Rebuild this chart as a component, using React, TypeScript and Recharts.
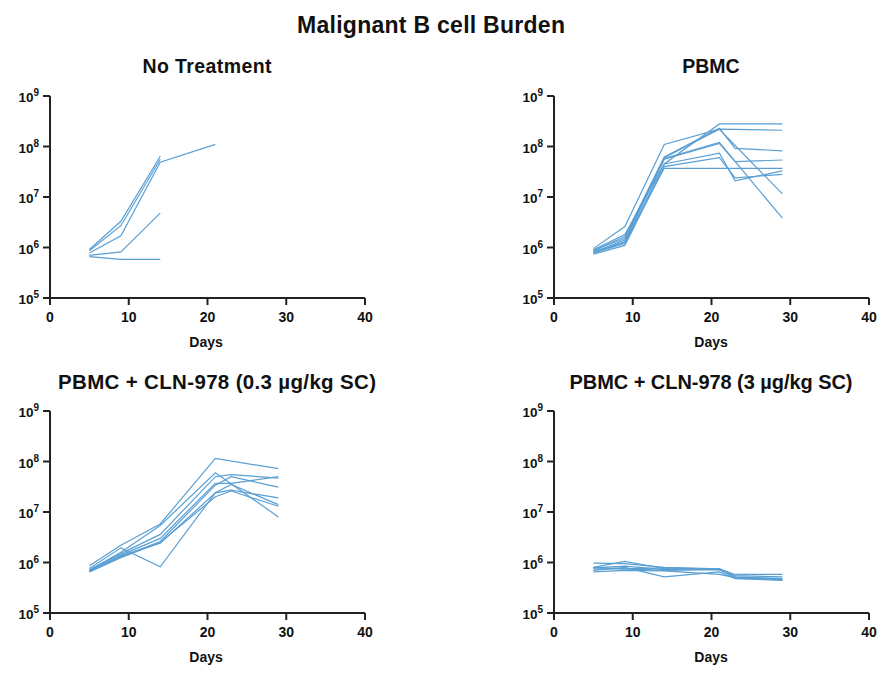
import React from "react";
import { LineChart, Line, XAxis, YAxis } from "recharts";

const FONT = "'Liberation Sans', Arial, Helvetica, sans-serif";
const LINE_COLOR = "#5a9fd4";

const xTicks = [0, 10, 20, 30, 40];
const yTicks = [1e5, 1e6, 1e7, 1e8, 1e9];

// No Treatment — days
const noTxDays = [5, 9, 14, 21];
const noTx1 = [0.91e6, 3.3e6, 6.4e7, null];
const noTx2 = [0.86e6, 2.7e6, 5.6e7, null];
const noTx3 = [0.78e6, 1.7e6, 4.9e7, 1.1e8];
const noTx4 = [0.7e6, 0.82e6, 4.8e6, null];
const noTx5 = [0.66e6, 0.58e6, 0.58e6, null];

// PBMC
const pbmcDays = [5, 9, 14, 21, 23, 29];
const pbmc1 = [0.95e6, 2.6e6, 1.1e8, 2.2e8, null, 2.1e8];
const pbmc2 = [0.9e6, 1.8e6, 4.5e7, 2.8e8, null, 2.8e8];
const pbmc3 = [0.86e6, 1.65e6, 6.2e7, 2.3e8, 9.2e7, 8.2e7];
const pbmc4 = [0.88e6, 1.5e6, 6.0e7, 2.2e8, null, 1.15e7];
const pbmc5 = [0.8e6, 1.4e6, 5.6e7, 1.15e8, 5.0e7, 5.4e7];
const pbmc6 = [0.83e6, 1.3e6, 5.8e7, 1.2e8, null, 3.8e6];
const pbmc7 = [0.78e6, 1.2e6, 4.5e7, 7.4e7, 2.1e7, 3.3e7];
const pbmc8 = [0.74e6, 1.1e6, 4.0e7, 6.0e7, 2.4e7, 2.8e7];
const pbmc9 = [0.8e6, 1.25e6, 3.7e7, 3.7e7, 3.7e7, 3.7e7];

// PBMC + CLN-978 (0.3 µg/kg SC)
const lowDays = [5, 9, 14, 21, 23, 29];
const low1 = [0.86e6, 2.2e6, 5.8e6, 1.15e8, null, 7.2e7];
const low2 = [0.76e6, 1.95e6, 0.82e6, 2.4e7, 2.7e7, 1.9e7];
const low3 = [0.7e6, 1.6e6, 5.4e6, 6.0e7, null, 8.0e6];
const low4 = [0.72e6, 1.5e6, 3.6e6, 5.0e7, 5.5e7, 4.7e7];
const low5 = [0.68e6, 1.4e6, 3.0e6, 3.7e7, 3.7e7, 5.0e7];
const low6 = [0.66e6, 1.3e6, 2.6e6, 3.4e7, 5.0e7, 3.1e7];
const low7 = [0.7e6, 1.35e6, 2.4e6, 2.4e7, 3.5e7, 1.4e7];
const low8 = [0.65e6, 1.25e6, 2.5e6, 2.0e7, 2.6e7, 1.3e7];

// PBMC + CLN-978 (3 µg/kg SC)
const highDays = [5, 9, 14, 21, 23, 29];
const high1 = [0.97e6, 0.95e6, 0.8e6, 0.75e6, 0.58e6, 0.58e6];
const high2 = [0.8e6, 1.05e6, 0.76e6, 0.72e6, 0.55e6, 0.52e6];
const high3 = [0.78e6, 0.85e6, 0.72e6, 0.76e6, 0.5e6, 0.47e6];
const high4 = [0.75e6, 0.75e6, 0.7e6, 0.72e6, 0.5e6, 0.45e6];
const high5 = [0.7e6, 0.8e6, 0.52e6, 0.65e6, 0.48e6, 0.44e6];
const high6 = [0.65e6, 0.7e6, 0.68e6, 0.58e6, 0.5e6, 0.46e6];
const high7 = [0.8e6, 0.75e6, 0.78e6, 0.74e6, 0.52e6, 0.48e6];

type Val = number | null;

function buildRows(days: number[], series: Val[][]) {
  return days.map((d, i) => {
    const row: Record<string, Val> = { day: d };
    series.forEach((s, k) => {
      row["s" + k] = s[i];
    });
    return row;
  });
}

const YTick = (props: any) => {
  const { x, y, payload } = props;
  const exp = Math.round(Math.log10(payload.value));
  return (
    <text x={x - 2} y={y + 6} textAnchor="end" fontFamily={FONT} fontWeight={700} fill="#111">
      <tspan fontSize={13.5}>10</tspan>
      <tspan fontSize={10} dy={-6}>{exp}</tspan>
    </text>
  );
};

type PanelProps = {
  left: number;
  top: number;
  days: number[];
  series: Val[][];
};

const Panel = ({ left, top, days, series }: PanelProps) => {
  const rows = buildRows(days, series);
  return (
    <div style={{ position: "absolute", left, top }}>
      <LineChart width={380} height={280} data={rows} margin={{ top: 16, right: 15, bottom: 32, left: 0 }}>
        <XAxis
          dataKey="day"
          type="number"
          domain={[0, 40]}
          ticks={xTicks}
          height={30}
          tickSize={7}
          tickMargin={7}
          axisLine={{ stroke: "#222", strokeWidth: 2 }}
          tickLine={{ stroke: "#222", strokeWidth: 2 }}
          tick={{ fontSize: 14, fontWeight: 700, fill: "#111", fontFamily: FONT }}
        />
        <YAxis
          scale="log"
          domain={[1e5, 1e9]}
          ticks={yTicks}
          allowDataOverflow
          width={50}
          tickSize={7}
          axisLine={{ stroke: "#222", strokeWidth: 2 }}
          tickLine={{ stroke: "#222", strokeWidth: 2 }}
          tick={<YTick />}
        />
        {series.map((_, k) => (
          <Line
            key={k}
            dataKey={"s" + k}
            type="linear"
            stroke={LINE_COLOR}
            strokeWidth={1.2}
            dot={false}
            activeDot={false}
            connectNulls
            isAnimationActive={false}
          />
        ))}
      </LineChart>
    </div>
  );
};

export default function App() {
  const titleStyle = { fontFamily: FONT, fontWeight: 700, fill: "#111" } as const;
  return (
    <div style={{ position: "absolute", left: 0, top: 0, width: 893, height: 674, background: "#fff" }}>
      <svg width={893} height={674} style={{ position: "absolute", left: 0, top: 0 }}>
        <text x={431} y={33} textAnchor="middle" fontSize={23} textLength={268} lengthAdjust="spacing" {...titleStyle}>Malignant B cell Burden</text>
        <text x={207} y={73} textAnchor="middle" fontSize={19.5} textLength={129} lengthAdjust="spacing" {...titleStyle}>No Treatment</text>
        <text x={711} y={73} textAnchor="middle" fontSize={19.5} {...titleStyle}>PBMC</text>
        <text x={217} y={389} textAnchor="middle" fontSize={20.5} textLength={318} lengthAdjust="spacing" {...titleStyle}>PBMC + CLN-978 (0.3 µg/kg SC)</text>
        <text x={711} y={389} textAnchor="middle" fontSize={20} textLength={283} lengthAdjust="spacing" {...titleStyle}>PBMC + CLN-978 (3 µg/kg SC)</text>
        <text x={206} y={347} textAnchor="middle" fontSize={14} {...titleStyle}>Days</text>
        <text x={711} y={347} textAnchor="middle" fontSize={14} {...titleStyle}>Days</text>
        <text x={206} y={662} textAnchor="middle" fontSize={14} {...titleStyle}>Days</text>
        <text x={711} y={662} textAnchor="middle" fontSize={14} {...titleStyle}>Days</text>
      </svg>
      <Panel left={0} top={80} days={noTxDays} series={[noTx1, noTx2, noTx3, noTx4, noTx5]} />
      <Panel left={504} top={80} days={pbmcDays} series={[pbmc1, pbmc2, pbmc3, pbmc4, pbmc5, pbmc6, pbmc7, pbmc8, pbmc9]} />
      <Panel left={0} top={395} days={lowDays} series={[low1, low2, low3, low4, low5, low6, low7, low8]} />
      <Panel left={504} top={395} days={highDays} series={[high1, high2, high3, high4, high5, high6, high7]} />
    </div>
  );
}
